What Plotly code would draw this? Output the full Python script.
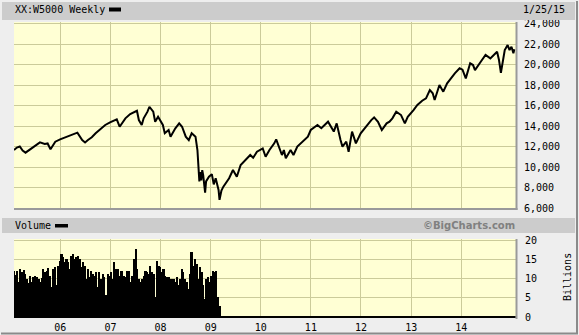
import plotly.graph_objects as go
import pandas as pd

# ---------------- data ----------------
price_dates = [
    "2005-01-28", "2005-02-18", "2005-03-11", "2005-04-01", "2005-04-22", "2005-05-13",
    "2005-06-03", "2005-07-01", "2005-08-05", "2005-09-09", "2005-09-30", "2005-10-21",
    "2005-11-25", "2005-12-30", "2006-02-03", "2006-03-24", "2006-05-05", "2006-06-09",
    "2006-06-30", "2006-07-21", "2006-08-18", "2006-09-15", "2006-10-20", "2006-11-24",
    "2006-12-29", "2007-02-16", "2007-03-09", "2007-04-20", "2007-05-25", "2007-07-13",
    "2007-07-27", "2007-08-17", "2007-08-31", "2007-09-28", "2007-10-12", "2007-11-09",
    "2007-11-23", "2007-12-14", "2008-01-18", "2008-02-01", "2008-02-29", "2008-03-14",
    "2008-04-18", "2008-05-16", "2008-06-06", "2008-07-03", "2008-07-25", "2008-08-15",
    "2008-09-12", "2008-09-26", "2008-10-10", "2008-10-17", "2008-10-24", "2008-10-31",
    "2008-11-07", "2008-11-21", "2008-11-28", "2008-12-19",
    "2009-01-09", "2009-01-23", "2009-02-06", "2009-02-27", "2009-03-06", "2009-03-20",
    "2009-04-03", "2009-05-15",
    "2009-06-12", "2009-07-10", "2009-08-07", "2009-09-11", "2009-10-16", "2009-11-06",
    "2009-12-04", "2010-01-15", "2010-02-05", "2010-03-05", "2010-04-09", "2010-04-23",
    "2010-05-14", "2010-06-04", "2010-06-18", "2010-07-02", "2010-08-06", "2010-08-27",
    "2010-09-24", "2010-11-05", "2010-12-10", "2010-12-31", "2011-02-18", "2011-03-18",
    "2011-04-22", "2011-05-06", "2011-06-17", "2011-07-08", "2011-08-05", "2011-08-19",
    "2011-09-16", "2011-10-03", "2011-10-28", "2011-11-25", "2011-12-30", "2012-02-03",
    "2012-03-16", "2012-04-06", "2012-05-04", "2012-06-01", "2012-07-06", "2012-07-27",
    "2012-08-17", "2012-09-14", "2012-10-19", "2012-11-16", "2012-12-07", "2013-01-18",
    "2013-02-15", "2013-03-22", "2013-04-19", "2013-05-17", "2013-06-07", "2013-06-21",
    "2013-07-26", "2013-08-23", "2013-09-20", "2013-10-18", "2013-11-15", "2013-12-20",
    "2014-01-10", "2014-02-03", "2014-03-07", "2014-03-28", "2014-04-11", "2014-05-23",
    "2014-06-27", "2014-08-01", "2014-09-19", "2014-10-03", "2014-10-17", "2014-11-14",
    "2014-12-05", "2014-12-19", "2015-01-02", "2015-01-16", "2015-01-23",
]
price_values = [
    11650, 11900, 12000, 11600, 11400, 11600,
    11800, 12050, 12400, 12250, 12300, 11730,
    12470, 12700, 12860, 13120, 13350, 12630,
    12400, 12630, 12900, 13290, 13680, 14100,
    14360, 14650, 13930, 14750, 15170, 15490,
    14580, 14100, 14750, 15400, 15880, 15400,
    14420, 14900, 14100, 13290, 13610, 12960,
    13780, 14260, 13930, 12960, 12630, 13290,
    12960, 11660, 8600, 9500, 8700, 9700,
    9200, 7500, 8600, 9050,
    9300, 8300, 8900, 7760, 6800, 7700,
    8080, 8900,
    9710, 9050, 10200, 10680, 11170, 10900,
    11490, 11820, 11000, 11660, 12310, 12700,
    11820, 11170, 11660, 10850, 11660, 11170,
    11990, 12470, 12960, 13610, 14100, 13780,
    14260, 14420, 13460, 14260, 12630, 11990,
    12470, 11490, 13460, 12310, 13290, 13930,
    14580, 14840, 14420, 13610, 14260, 14420,
    14750, 15400, 15070, 14260, 14900, 15560,
    16050, 16470, 16700, 17510, 17190, 16540,
    18000, 17350, 18170, 18650, 19140, 19630,
    19500, 18650, 20120, 19950, 19460, 20270,
    20930, 20600, 21250, 20440, 19200, 21410,
    21900, 21410, 21740, 21100, 21500,
]

# volume (billions), sampled every 12 days from the start of the chart
volume_start = "2005-01-28"
volume_values = [
    11.9, 11.0, 12.1, 9.1, 12.6, 11.7, 12.3, 11.3, 10.0, 8.9,
    10.8, 9.1, 10.4, 10.8, 10.4, 10.0, 9.1, 10.2, 12.6, 11.7,
    12.1, 12.7, 10.8, 7.8, 12.6, 13.0, 8.2, 13.4, 14.7, 16.5,
    15.6, 14.3, 15.2, 14.3, 12.6, 16.0, 16.5, 15.2, 15.6, 16.0,
    15.2, 13.0, 14.3, 13.4, 10.0, 12.6, 10.4, 11.9, 11.3, 10.8,
    11.7, 7.8, 11.7, 10.0, 11.3, 10.4, 5.6, 11.3, 10.8, 11.7,
    10.0, 14.3, 12.6,
    12.6, 10.8, 12.1, 12.1, 10.8, 10.4, 12.1, 12.1, 9.1, 10.8,
    15.2, 17.8, 12.6, 10.0, 9.1, 10.0, 10.8, 12.1, 11.7, 11.3,
    13.4, 11.7, 11.3, 5.2, 14.7, 13.4, 13.0, 11.7, 12.6, 10.8,
    10.4, 10.4, 10.0, 10.0, 10.0, 9.1, 10.4, 8.2, 10.0, 12.6,
    11.7, 10.0, 9.1, 7.4, 11.3, 16.9, 13.4, 15.2, 13.8, 10.0,
    13.0, 11.7, 8.2, 4.8, 10.0, 10.4, 9.1, 10.8, 12.1, 11.7,
    12.1, 5.2, 2.8,
]
volume_dates = pd.date_range(volume_start, periods=len(volume_values), freq="12D")

year_ticks = ["2006-01-01", "2007-01-01", "2008-01-01", "2009-01-01", "2010-01-01",
              "2011-01-01", "2012-01-01", "2013-01-01", "2014-01-01"]
year_labels = ["06", "07", "08", "09", "10", "11", "12", "13", "14"]
price_ticks = [6000, 8000, 10000, 12000, 14000, 16000, 18000, 20000, 22000, 24000]
volume_ticks = [0, 5, 10, 15, 20]

title_text = "XX:W5000 Weekly"
date_text = "1/25/15"
volume_text = "Volume"
credit_text = "©BigCharts.com"
unit_text = "Billions"

# ---------------- layout helpers ----------------
W, H = 579, 335
L, R, T, B = 14, 63, 22, 18
PW, PH = W - L - R, H - T - B


def px(x):
    return (x - L) / PW


def py(y):
    return (H - B - y) / PH


FONT = "DejaVu Sans Mono"
GRID = "#CBCB9A"
SHADOW = "#9A9A9A"

fig = go.Figure()
fig.add_trace(go.Scatter(
    x=price_dates, y=price_values, mode="lines",
    line=dict(color="black", width=2), xaxis="x", yaxis="y",
    hoverinfo="skip",
))
fig.add_trace(go.Bar(
    x=volume_dates, y=volume_values, marker=dict(color="black", line=dict(width=0)),
    width=12 * 86400000, xaxis="x2", yaxis="y2", hoverinfo="skip",
))

xr = ["2005-01-28", "2015-02-04"]
common_x = dict(
    type="date", range=xr, showgrid=True, gridcolor=GRID, gridwidth=1,
    tickvals=year_ticks, ticktext=year_labels, zeroline=False, showline=False,
    automargin=False,
    tickfont=dict(family=FONT, size=10, color="black"),
)
fig.update_layout(
    template="none",
    width=W, height=H,
    margin=dict(l=L, r=R, t=T, b=B, pad=0),
    paper_bgcolor="#EEEEEE", plot_bgcolor="#FFFFD4",
    showlegend=False, bargap=0,
    xaxis=dict(common_x, domain=[0, 1], anchor="y", showticklabels=False),
    xaxis2=dict(common_x, domain=[0, 1], anchor="y2", matches="x",
                ticks="", ticklabelstandoff=3),
    yaxis=dict(domain=[py(208), 1], range=[6000, 24150], side="right",
               tickvals=price_ticks, tickformat=",d", showgrid=True,
               gridcolor=GRID, zeroline=False, ticks="", ticklabelstandoff=7,
               automargin=False,
               tickfont=dict(family=FONT, size=10, color="black")),
    yaxis2=dict(domain=[0, py(239)], range=[0, 20.3], side="right",
                tickvals=volume_ticks, showgrid=True, gridcolor=GRID,
                zeroline=False, ticks="", ticklabelstandoff=8, automargin=False,
                tickfont=dict(family=FONT, size=10, color="black")),
)

shapes = [
    # header bars
    dict(type="rect", xref="paper", yref="paper", x0=px(2), x1=px(575), y0=py(20), y1=py(2),
         fillcolor="#CCCCCC", line=dict(width=0)),
    dict(type="rect", xref="paper", yref="paper", x0=px(2), x1=px(575), y0=py(233), y1=py(218),
         fillcolor="#CCCCCC", line=dict(width=0)),
    # legend swatches
    dict(type="rect", xref="paper", yref="paper", x0=px(109), x1=px(121), y0=py(11.5), y1=py(7.5),
         fillcolor="black", line=dict(width=0)),
    dict(type="rect", xref="paper", yref="paper", x0=px(55), x1=px(68), y0=py(227.5), y1=py(224),
         fillcolor="black", line=dict(width=0)),
    # plot-edge shadows
    dict(type="line", xref="paper", yref="paper", x0=px(516.5), x1=px(516.5), y0=py(210), y1=1,
         line=dict(color=SHADOW, width=2)),
    dict(type="line", xref="paper", yref="paper", x0=0, x1=px(517.5), y0=py(209), y1=py(209),
         line=dict(color=SHADOW, width=2)),
    dict(type="line", xref="paper", yref="paper", x0=px(516.5), x1=px(516.5), y0=py(319), y1=py(239),
         line=dict(color=SHADOW, width=2)),
    dict(type="line", xref="paper", yref="paper", x0=0, x1=px(515.5), y0=py(317), y1=py(317),
         line=dict(color="black", width=2)),
    # outer frame shadow
    dict(type="line", xref="paper", yref="paper", x0=px(577), x1=px(577), y0=py(334), y1=py(1),
         line=dict(color="#8A8A8A", width=2)),
    dict(type="line", xref="paper", yref="paper", x0=px(1), x1=px(578), y0=py(333.5), y1=py(333.5),
         line=dict(color="#8A8A8A", width=2)),
]
fig.update_layout(shapes=shapes)

ann = [
    dict(text=title_text, x=px(13), y=py(10), xanchor="left", yanchor="middle",
         font=dict(family=FONT, size=10, color="black")),
    dict(text=date_text, x=px(567), y=py(9.5), xanchor="right", yanchor="middle",
         font=dict(family=FONT, size=10, color="black")),
    dict(text=volume_text, x=px(13), y=py(225.5), xanchor="left", yanchor="middle",
         font=dict(family=FONT, size=10, color="black")),
    dict(text="<b>" + credit_text + "</b>", x=px(517), y=py(225.5), xanchor="right", yanchor="middle",
         font=dict(family="DejaVu Sans", size=10, color="#808080")),
    dict(text=unit_text, x=px(567), y=py(277), xanchor="center", yanchor="middle",
         textangle=-90, font=dict(family=FONT, size=10, color="black")),
]
for a in ann:
    a.update(xref="paper", yref="paper", showarrow=False)
fig.update_layout(annotations=ann)

fig.write_html("out.html")
